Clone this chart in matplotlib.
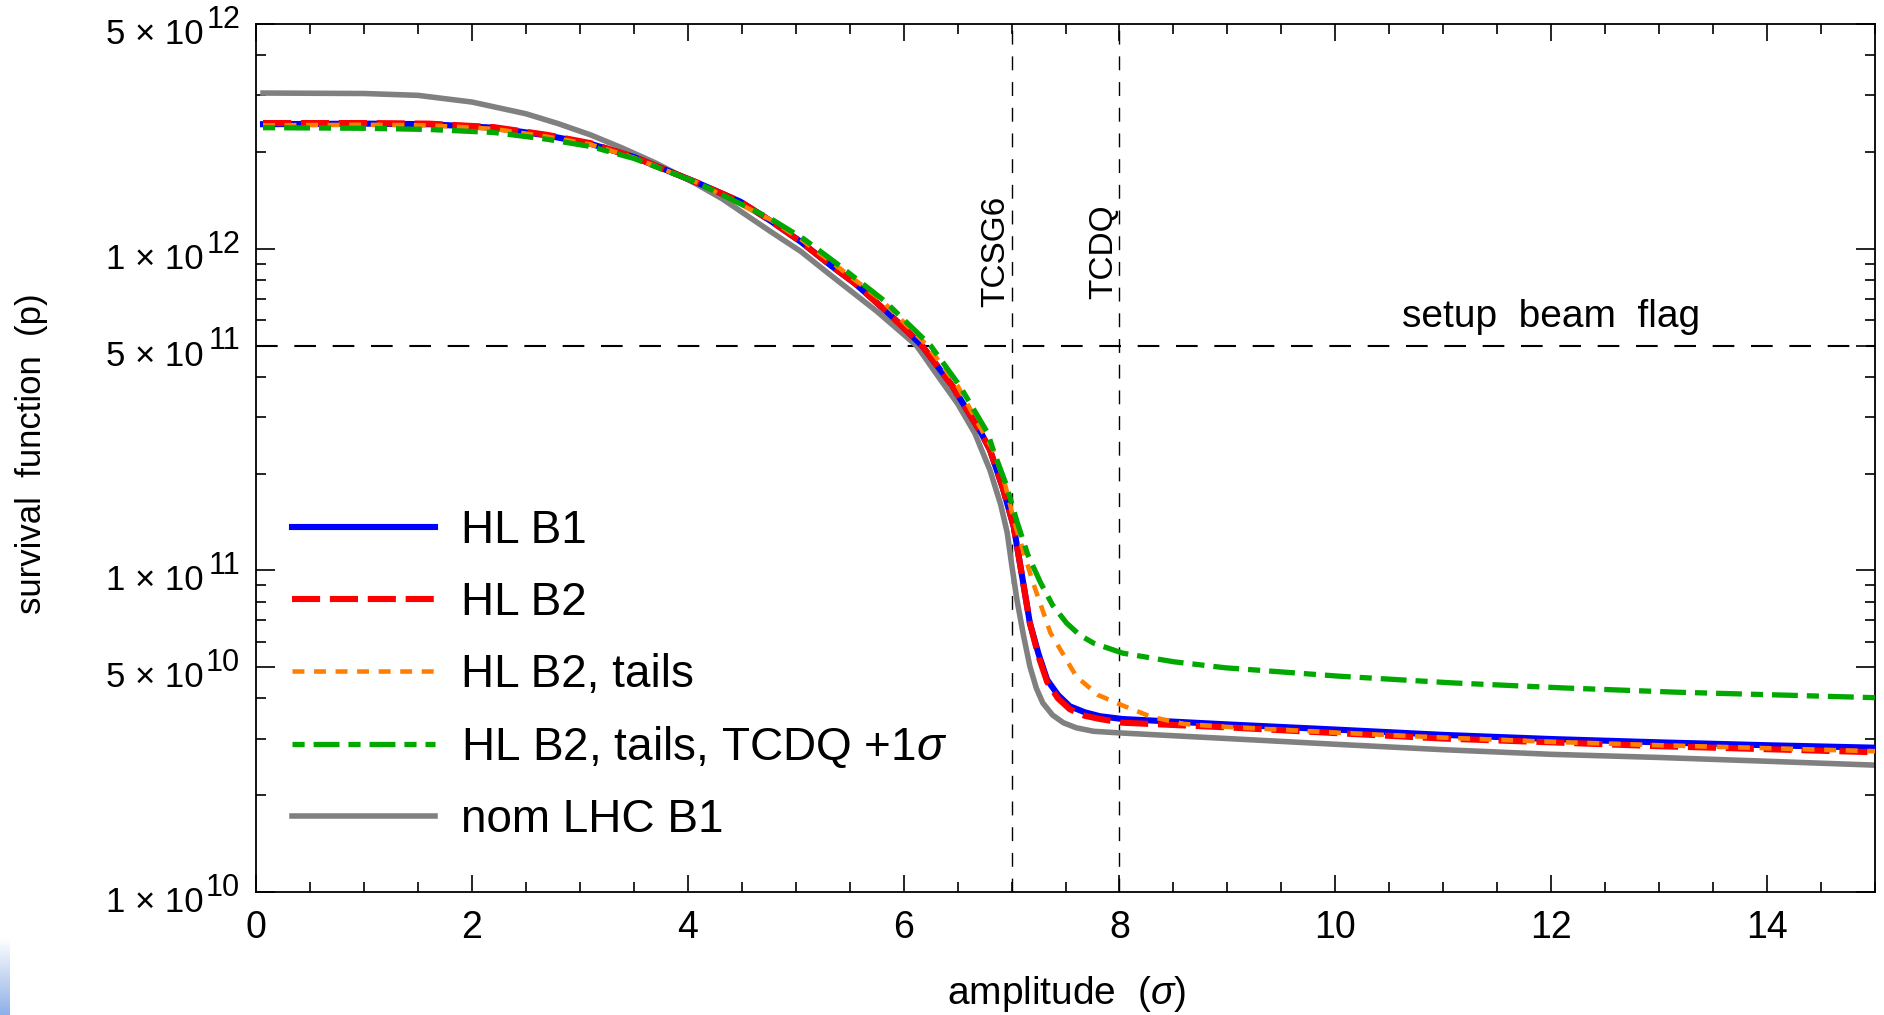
import numpy as np
import matplotlib
matplotlib.use("Agg")
import matplotlib.pyplot as plt
from matplotlib.ticker import FixedLocator, LogLocator, MultipleLocator, NullFormatter

plt.rcParams['font.family'] = ['Liberation Sans', 'DejaVu Sans']
plt.rcParams['mathtext.fontset'] = 'custom'
plt.rcParams['mathtext.rm'] = 'Liberation Sans'
plt.rcParams['mathtext.it'] = 'Liberation Sans:italic'

# ---- data (amplitude in sigma, survival in protons) ----
x_hl_b1 = [0.065, 1.0, 1.6, 2.2, 2.70, 3.1, 3.5, 4.08, 4.49, 4.77, 5.05, 5.32, 5.55, 5.75,
           5.95, 6.17, 6.45, 6.72, 6.80, 6.92, 7.02, 7.10, 7.17, 7.25, 7.33, 7.43, 7.54,
           7.68, 7.82, 8.03, 9.0, 10.0, 11.0, 12.0, 13.0, 14.0, 15.0]
y_hl_b1 = [2.44e12, 2.45e12, 2.44e12, 2.38e12, 2.25e12, 2.12e12, 1.93e12, 1.61e12, 1.40e12,
           1.22e12, 1.05e12, 8.9e11, 7.8e11, 6.8e11, 5.9e11, 5.0e11, 3.75e11, 2.67e11,
           2.37e11, 1.80e11, 1.37e11, 9.5e10, 6.86e10, 5.5e10, 4.57e10, 4.1e10, 3.78e10,
           3.62e10, 3.52e10, 3.45e10, 3.32e10, 3.20e10, 3.08e10, 2.99e10, 2.92e10, 2.86e10,
           2.81e10]

x_hl_b2 = [0.065, 1.0, 1.6, 2.2, 2.70, 3.1, 3.5, 4.08, 4.49, 4.77, 5.05, 5.32, 5.55, 5.75,
           5.95, 6.17, 6.45, 6.72, 6.80, 6.92, 7.02, 7.10, 7.17, 7.25, 7.33, 7.43, 7.54,
           7.68, 7.82, 8.03, 9.0, 10.0, 11.0, 12.0, 13.0, 14.0, 15.0]
y_hl_b2 = [2.46e12, 2.46e12, 2.45e12, 2.39e12, 2.26e12, 2.13e12, 1.93e12, 1.61e12, 1.40e12,
           1.22e12, 1.05e12, 8.9e11, 7.8e11, 6.8e11, 5.9e11, 5.0e11, 3.75e11, 2.67e11,
           2.37e11, 1.80e11, 1.37e11, 9.5e10, 6.86e10, 5.4e10, 4.5e10, 4.0e10, 3.70e10,
           3.53e10, 3.45e10, 3.36e10, 3.25e10, 3.12e10, 3.00e10, 2.92e10, 2.84e10, 2.78e10,
           2.72e10]

x_tails = [0.065, 1.0, 1.6, 2.2, 2.70, 3.1, 3.5, 4.08, 4.77, 5.05, 5.35, 5.80, 6.22, 6.50,
           6.74, 6.83, 6.94, 7.03, 7.20, 7.36, 7.60, 7.80, 8.03, 8.30, 8.60, 9.0, 10.0,
           11.0, 12.0, 13.0, 14.0, 15.0]
y_tails = [2.42e12, 2.43e12, 2.42e12, 2.36e12, 2.23e12, 2.11e12, 1.92e12, 1.61e12, 1.23e12,
           1.07e12, 9.0e11, 6.9e11, 5.0e11, 3.75e11, 2.67e11, 2.37e11, 1.85e11, 1.40e11,
           9.14e10, 6.4e10, 4.68e10, 4.1e10, 3.8e10, 3.5e10, 3.33e10, 3.26e10, 3.13e10,
           3.02e10, 2.93e10, 2.86e10, 2.80e10, 2.74e10]

x_tcdq = [0.065, 1.0, 1.6, 2.2, 2.70, 3.1, 3.5, 4.08, 4.77, 5.08, 5.38, 5.82, 6.25, 6.52,
          6.78, 6.83, 6.95, 7.05, 7.15, 7.27, 7.38, 7.51, 7.63, 7.76, 8.03, 8.50, 8.98,
          10.03, 11.08, 12.12, 13.17, 14.21, 15.0]
y_tcdq = [2.38e12, 2.37e12, 2.35e12, 2.30e12, 2.19e12, 2.08e12, 1.91e12, 1.61e12, 1.24e12,
          1.07e12, 9.0e11, 6.9e11, 5.0e11, 3.75e11, 2.67e11, 2.37e11, 1.85e11, 1.42e11,
          1.12e11, 9.14e10, 7.8e10, 6.86e10, 6.3e10, 5.94e10, 5.53e10, 5.2e10, 4.98e10,
          4.69e10, 4.47e10, 4.31e10, 4.18e10, 4.09e10, 4.02e10]

x_nom = [0.065, 1.0, 1.5, 2.0, 2.5, 2.8, 3.1, 3.39, 3.7, 4.08, 4.32, 4.77, 5.05, 5.30, 5.75,
         6.12, 6.30, 6.50, 6.66, 6.80, 6.90, 6.96, 7.00, 7.05, 7.11, 7.17, 7.23, 7.29,
         7.38, 7.48, 7.60, 7.76, 8.03, 9.0, 10.0, 11.0, 12.0, 13.0, 14.0, 15.0]
y_nom = [3.05e12, 3.04e12, 3.0e12, 2.86e12, 2.63e12, 2.45e12, 2.26e12, 2.06e12, 1.85e12,
         1.59e12, 1.43e12, 1.13e12, 9.8e11, 8.4e11, 6.4e11, 5.0e11, 4.1e11, 3.3e11,
         2.67e11, 2.05e11, 1.6e11, 1.31e11, 1.05e11, 8.1e10, 6.3e10, 5.03e10, 4.3e10,
         3.87e10, 3.55e10, 3.36e10, 3.24e10, 3.16e10, 3.12e10, 3.00e10, 2.88e10, 2.77e10,
         2.68e10, 2.62e10, 2.55e10, 2.48e10]

collimators = [7.0, 8.0]
collimator_names = ['TCSG6', 'TCDQ']
flag_level = 5e11

y_major = [1e10, 5e10, 1e11, 5e11, 1e12, 5e12]
y_mantissa = ['1', '5', '1', '5', '1', '5']
y_exponent = ['10', '10', '11', '11', '12', '12']

fig = plt.figure(figsize=(18.84, 10.15), dpi=100)
ax = fig.add_axes([256 / 1884, 1 - 892 / 1015, (1875 - 256) / 1884, (892 - 24) / 1015])

ax.plot(x_nom, y_nom, color='#808080', lw=4.0, label='nom LHC B1', zorder=2,
        solid_joinstyle='round')
ax.plot(x_hl_b1, y_hl_b1, color='#0000ff', lw=4.4, label='HL B1', zorder=3,
        solid_joinstyle='round')
ax.plot(x_hl_b2, y_hl_b2, color='#ff0000', lw=4.4, dashes=(4.6, 1.6), label='HL B2', zorder=4)
ax.plot(x_tails, y_tails, color='#ff8000', lw=3.3, dashes=(2.6, 2.1), label='HL B2, tails',
        zorder=5)
ax.plot(x_tcdq, y_tcdq, color='#00a800', lw=3.8, dashes=(2.3, 1.7, 4.9, 1.7),
        label='HL B2, tails, TCDQ +1$\\sigma$', zorder=6)

ax.axhline(flag_level, color='black', lw=1.5, dashes=(10.4, 8), zorder=1)
for xc, name, yt in zip(collimators, collimator_names, [6.6e11, 7.0e11]):
    ax.axvline(xc, color='black', lw=1.0, dashes=(10, 8.5), zorder=1)
    ax.text(xc - 0.15, yt, name, rotation=90, ha='center', va='bottom', fontsize=24)
ax.text(12.0, 5.38e11, 'setup  beam  flag', ha='center', va='bottom', fontsize=28)

ax.set_xlim(0, 15)
ax.set_yscale('log')
ax.set_ylim(1e10, 5e12)

ax.xaxis.set_major_locator(MultipleLocator(2))
ax.xaxis.set_minor_locator(MultipleLocator(0.5))
ax.yaxis.set_major_locator(FixedLocator(y_major))
ax.yaxis.set_minor_locator(LogLocator(base=10, subs=np.arange(2, 10)))
ax.yaxis.set_minor_formatter(NullFormatter())

ax.tick_params(which='both', direction='in', top=True, right=True, width=1.2, colors='black')
ax.tick_params(axis='x', which='major', length=12, labelsize=27, pad=13)
ax.tick_params(axis='x', which='minor', length=7)
ax.tick_params(axis='y', which='major', length=14, labelleft=False)
ax.tick_params(axis='y', which='minor', length=7)
for sp in ax.spines.values():
    sp.set_linewidth(1.3)

# y tick labels in "m × 10^e" form with a large exponent
ytrans = ax.get_yaxis_transform()
for yv, m, e in zip(y_major, y_mantissa, y_exponent):
    ax.annotate(m + ' × 10', xy=(0, yv), xycoords=ytrans, xytext=(-37.4, -7.5),
                textcoords='offset points', ha='right', va='center', fontsize=25,
                annotation_clip=False)
    ax.annotate(e, xy=(0, yv), xycoords=ytrans, xytext=(-11.5, 3.0),
                textcoords='offset points', ha='right', va='center', fontsize=22,
                annotation_clip=False)

handles, labels = ax.get_legend_handles_labels()
order = [1, 2, 3, 4, 0]
leg = ax.legend([handles[i] for i in order], [labels[i] for i in order],
                loc='upper left', bbox_to_anchor=(0.0222, 0.441), frameon=False,
                fontsize=33, handlelength=3.12, handletextpad=0.57, labelspacing=0.61,
                borderpad=0, borderaxespad=0)

fig.text(0.566, 0.021, 'amplitude  ($\\sigma$)', ha='center', va='center', fontsize=28)
fig.text(0.0166, 0.553, 'survival  function  (p)', rotation=90, ha='center', va='center',
         fontsize=25)

# faint blue corner strip at bottom left
cax = fig.add_axes([0, 0, 10 / 1884, 78 / 1015])
grad = np.linspace(0, 1, 50).reshape(-1, 1)
cmap = matplotlib.colors.LinearSegmentedColormap.from_list('c', ['#ffffff', '#8fb0e8'])
cax.imshow(grad, aspect='auto', cmap=cmap, origin='upper')
cax.axis('off')

fig.savefig('out.png', dpi=100)
